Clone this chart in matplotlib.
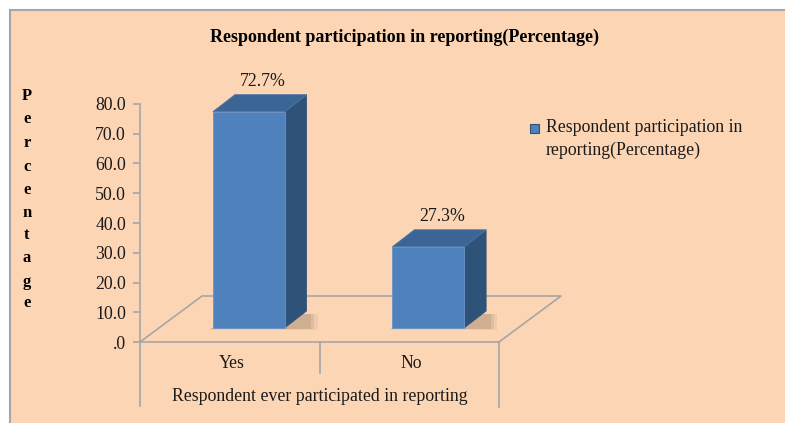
import matplotlib
matplotlib.use("Agg")
import matplotlib.pyplot as plt
from matplotlib.patches import Rectangle, Polygon
from matplotlib.lines import Line2D
from matplotlib.transforms import offset_copy

categories = ["Yes", "No"]
values = [72.7, 27.3]
value_labels = ["72.7%", "27.3%"]
yticks = [0, 10, 20, 30, 40, 50, 60, 70, 80]
ytick_labels = [".0", "10.0", "20.0", "30.0", "40.0", "50.0", "60.0", "70.0", "80.0"]
title = "Respondent participation in reporting(Percentage)"
series_name = "Respondent participation in\nreporting(Percentage)"
group_label = "Respondent ever participated in reporting"
ylabel = "Percentage"

W, H = 785, 423
plt.rcParams["font.family"] = ["Liberation Serif", "DejaVu Serif"]
fig = plt.figure(figsize=(W / 100, H / 100), dpi=100, facecolor="white")

# chart area background
bg = Rectangle((10 / W, -0.05), 1.2, 1.05 - 10 / H, transform=fig.transFigure,
               facecolor="#FCD5B4", edgecolor="#A6A6A6", lw=1.5, zorder=-10)
fig.patches.append(bg)

# axes (front plane): x 140..499 px, y 342 (0) .. 104 (80)
x0, x1, y0, y1 = 140, 499, 342, 104
ax = fig.add_axes([x0 / W, (H - y0) / H, (x1 - x0) / W, (y0 - y1) / H], zorder=1)
ax.set_facecolor("none")
ax.set_xlim(-0.5, len(categories) - 0.5)
ax.set_ylim(0, 80)
for s in ["top", "right", "bottom"]:
    ax.spines[s].set_visible(False)
ax.spines["left"].set_color("#A6A6A6")
ax.spines["left"].set_linewidth(1.2)
ax.set_xticks([])
ax.set_yticks(yticks)
ax.set_yticklabels(ytick_labels, fontsize=12.8, color="#1a1a1a")
ax.tick_params(axis="y", direction="out", length=5, color="#A6A6A6", width=1.2, pad=5)

gray = "#A6A6A6"
xmin, xmax = ax.get_xlim()
px_x = (x1 - x0) / (xmax - xmin)   # px per category unit
px_y = (y0 - y1) / 80.0            # px per value unit

# floor (parallelogram)
fdx, fdy = 62 / px_x, 46 / px_y
floor_pts = [(xmin, 0), (xmin + fdx, fdy), (xmax + fdx, fdy), (xmax, 0)]
ax.add_line(Line2D([p[0] for p in floor_pts], [p[1] for p in floor_pts],
                   color=gray, lw=1.2, clip_on=False, zorder=1))
ax.add_line(Line2D([xmin, xmax], [0, 0], color=gray, lw=1.2, clip_on=False, zorder=1))

# category separators below the axis
sep_tr = ax.get_xaxis_transform()
for xs, depth in [(xmin, 64), (0.5, 31), (xmax, 65)]:
    ax.add_line(Line2D([xs, xs], [0, -depth / (y0 - y1)], transform=sep_tr,
                       color=gray, lw=1.2, clip_on=False))

# bars: front plane shifted into the floor
bx, by = 19, 14
bar_tr = offset_copy(ax.transData, fig=fig, x=bx, y=by, units="dots")
w = 0.40
ddx, ddy = 22 / px_x, 17 / px_y
front_c, side_c, top_c = "#4F81BD", "#2F5279", "#3B6595"
for i, v in enumerate(values):
    l, r = i - w / 2, i + w / 2
    # soft shadow layers
    for k, a in [(1.0, 0.06), (0.7, 0.08), (0.4, 0.10)]:
        sh = Polygon([(l - 0.02 * k, -0.6 * k), (r + ddx * (1 + 0.5 * k), -0.6 * k),
                      (r + ddx * (1 + 0.5 * k), ddy * 0.8),
                      (l + ddx, ddy * 0.8)], closed=True, transform=bar_tr,
                     facecolor="#3a2a20", alpha=a, lw=0, clip_on=False, zorder=2)
        ax.add_patch(sh)
    ax.bar(i, v, width=w, color=front_c, transform=bar_tr, clip_on=False, zorder=4,
           edgecolor="#6A93C8", linewidth=0.6)
    side = Polygon([(r, 0), (r + ddx, ddy), (r + ddx, v + ddy), (r, v)], closed=True,
                   transform=bar_tr, facecolor=side_c, edgecolor=side_c, lw=0.5,
                   clip_on=False, zorder=3)
    top = Polygon([(l, v), (l + ddx, v + ddy), (r + ddx, v + ddy), (r, v)], closed=True,
                  transform=bar_tr, facecolor=top_c, edgecolor="#4A76A8", lw=0.6,
                  clip_on=False, zorder=5)
    ax.add_patch(side)
    ax.add_patch(top)
    lab_tr = offset_copy(ax.transData, fig=fig, x=bx + 14, y=by + 30, units="dots")
    ax.text(i, v, value_labels[i], transform=lab_tr, ha="center", va="center",
            fontsize=12.8, color="#1a1a1a")

# category labels
cat_tr = offset_copy(ax.transData, fig=fig, x=2, y=-21, units="dots")
for i, c in enumerate(categories):
    ax.text(i, 0, c, transform=cat_tr, ha="center", va="center", fontsize=12.8,
            color="#1a1a1a")
grp_tr = offset_copy(ax.transData, fig=fig, x=0, y=-54, units="dots")
ax.text((xmin + xmax) / 2, 0, group_label, transform=grp_tr, ha="center",
        va="center", fontsize=12.8, color="#1a1a1a")

# title
fig.text(405 / W, 1 - 37 / H, title, ha="center", va="center", fontsize=13,
         fontweight="bold", color="black")

# vertical stacked y label
ys = [96, 119, 143, 167, 190, 213, 235, 258, 282, 303]
for ch, yy in zip(ylabel, ys):
    fig.text(27 / W, 1 - yy / H, ch, ha="center", va="center", fontsize=12,
             fontweight="bold", color="black")

# legend
fig.patches.append(Rectangle((530 / W, 1 - 133 / H), 9 / W, 9 / H,
                             transform=fig.transFigure, facecolor=front_c,
                             edgecolor="#2F5279", lw=0.8))
fig.text(546 / W, 1 - 139 / H, series_name, ha="left", va="center", fontsize=12.8,
         color="#1a1a1a", linespacing=1.5)

fig.savefig("out.png", dpi=100, facecolor="white")
